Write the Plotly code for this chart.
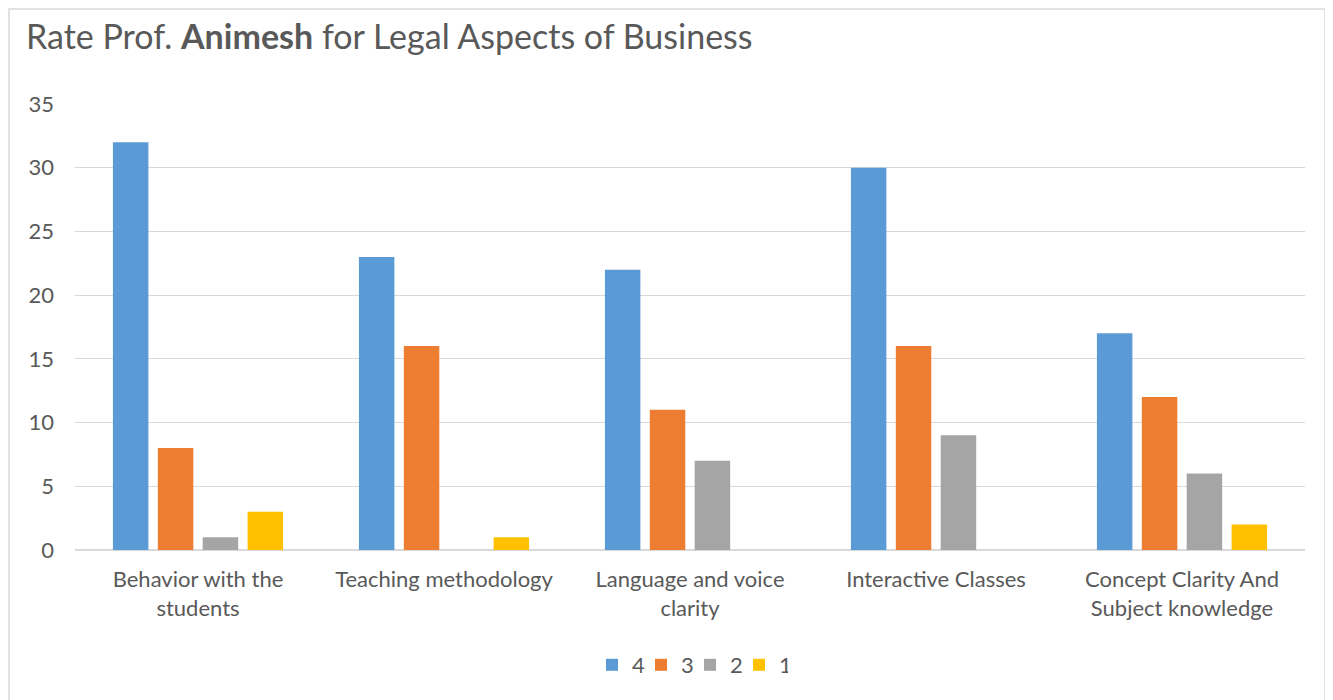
import plotly.graph_objects as go

categories = ["Behavior with the<br>students", "Teaching methodology", "Language and voice<br>clarity",
              "Interactive Classes", "Concept Clarity And<br>Subject knowledge"]
series_names = ["4", "3", "2", "1"]
vals_4 = [32, 23, 22, 30, 17]
vals_3 = [8, 16, 11, 16, 12]
vals_2 = [1, 0, 7, 9, 6]
vals_1 = [3, 1, 0, 0, 2]
colors = ["#5B9BD5", "#ED7D31", "#A5A5A5", "#FFC000"]

FONT = "Lato"
OFF = 8  # page body margin
fig = go.Figure()
for name, vals, c in zip(series_names, [vals_4, vals_3, vals_2, vals_1], colors):
    fig.add_trace(go.Bar(x=categories, y=vals, name=name, marker=dict(color=c, line=dict(width=0))))

W, H = 1333, 700
PL, PR, PT, PB = 75 - OFF, 1305 - OFF, 104 - OFF, 550 - OFF
PW, PH = PR - PL, PB - PT
fig.update_layout(
    width=W, height=H,
    margin=dict(l=PL, r=W - PR, t=PT, b=H - PB),
    paper_bgcolor="white", plot_bgcolor="white",
    barmode="group", bargap=0.27, bargroupgap=0.21,
    font=dict(family=FONT, color="#595959", size=22),
    title=dict(text="Rate Prof. <b>Animesh</b> for Legal Aspects of Business",
               x=(26 - OFF) / W, xanchor="left", y=1 - (37 - OFF) / H, yanchor="middle",
               font=dict(family=FONT, size=34, color="#595959")),
    xaxis=dict(showgrid=False, showline=False, ticks="", tickfont=dict(size=22),
               ticklabelstandoff=14, automargin=False),
    yaxis=dict(range=[0, 35], dtick=5, showgrid=True, gridcolor="#D9D9D9", gridwidth=1,
               zeroline=True, zerolinecolor="#D9D9D9", zerolinewidth=2,
               showline=False, ticks="", ticklabelstandoff=20, tickfont=dict(size=22), automargin=False),
    legend=dict(orientation="h", x=0.5, xanchor="center", y=-(665 - 550) / PH, yanchor="middle",
                font=dict(size=22), traceorder="normal", itemwidth=30,
                entrywidth=4, entrywidthmode="pixels"),
    shapes=[dict(type="rect", xref="paper", yref="paper",
                 x0=(1 - PL) / PW, x1=(1317 - PL) / PW, y0=(PB - 705) / PH, y1=(PB - 1) / PH,
                 line=dict(color="#D9D9D9", width=1.5), layer="below")],
    showlegend=True,
)
fig.write_html("out.html")
